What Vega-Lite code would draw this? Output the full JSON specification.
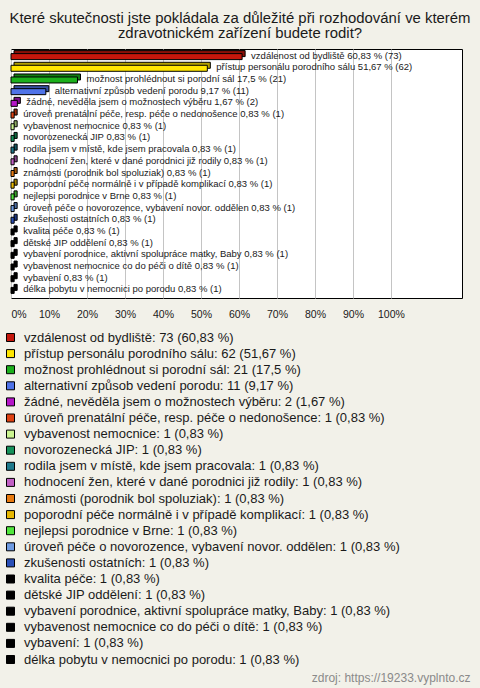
{
  "$schema": "https://vega.github.io/schema/vega-lite/v6.json",
  "width": 451,
  "height": 249,
  "autosize": {"type": "none"},
  "padding": {"left": 11, "top": 49, "right": 18, "bottom": 390},
  "background": "#f2f1e9",
  "config": {
    "view": {"fill": "#ffffff", "stroke": "#000000", "strokeWidth": 1}
  },
  "title": {
    "text": ["Které skutečnosti jste pokládala za důležité při rozhodování ve kterém", "zdravotnickém zařízení budete rodit?"],
    "fontSize": 14.9,
    "font": "Liberation Sans",
    "fontWeight": "normal",
    "color": "#1a1a1a",
    "anchor": "middle",
    "dx": 3.5,
    "offset": 8,
    "lineHeight": 15
  },
  "data": {
    "values": [
      {"name": "vzdálenost od bydliště", "count": 73, "pct": 60.83, "barLabel": "vzdálenost od bydliště 60,83 % (73)", "legend": "vzdálenost od bydliště: 73 (60,83 %)"},
      {"name": "přístup personálu porodního sálu", "count": 62, "pct": 51.67, "barLabel": "přístup personálu porodního sálu 51,67 % (62)", "legend": "přístup personálu porodního sálu: 62 (51,67 %)"},
      {"name": "možnost prohlédnout si porodní sál", "count": 21, "pct": 17.5, "barLabel": "možnost prohlédnout si porodní sál 17,5 % (21)", "legend": "možnost prohlédnout si porodní sál: 21 (17,5 %)"},
      {"name": "alternativní způsob vedení porodu", "count": 11, "pct": 9.17, "barLabel": "alternativní způsob vedení porodu 9,17 % (11)", "legend": "alternativní způsob vedení porodu: 11 (9,17 %)"},
      {"name": "žádné, nevěděla jsem o možnostech výběru", "count": 2, "pct": 1.67, "barLabel": "žádné, nevěděla jsem o možnostech výběru 1,67 % (2)", "legend": "žádné, nevěděla jsem o možnostech výběru: 2 (1,67 %)"},
      {"name": "úroveň prenatální péče, resp. péče o nedonošence", "count": 1, "pct": 0.83, "barLabel": "úroveň prenatální péče, resp. péče o nedonošence 0,83 % (1)", "legend": "úroveň prenatální péče, resp. péče o nedonošence: 1 (0,83 %)"},
      {"name": "vybavenost nemocnice", "count": 1, "pct": 0.83, "barLabel": "vybavenost nemocnice 0,83 % (1)", "legend": "vybavenost nemocnice: 1 (0,83 %)"},
      {"name": "novorozenecká JIP", "count": 1, "pct": 0.83, "barLabel": "novorozenecká JIP 0,83 % (1)", "legend": "novorozenecká JIP: 1 (0,83 %)"},
      {"name": "rodila jsem v místě, kde jsem pracovala", "count": 1, "pct": 0.83, "barLabel": "rodila jsem v místě, kde jsem pracovala 0,83 % (1)", "legend": "rodila jsem v místě, kde jsem pracovala: 1 (0,83 %)"},
      {"name": "hodnocení žen, které v dané porodnici již rodily", "count": 1, "pct": 0.83, "barLabel": "hodnocení žen, které v dané porodnici již rodily 0,83 % (1)", "legend": "hodnocení žen, které v dané porodnici již rodily: 1 (0,83 %)"},
      {"name": "známosti (porodnik bol spoluziak)", "count": 1, "pct": 0.83, "barLabel": "známosti (porodnik bol spoluziak) 0,83 % (1)", "legend": "známosti (porodnik bol spoluziak): 1 (0,83 %)"},
      {"name": "poporodní péče normálně i v případě komplikací", "count": 1, "pct": 0.83, "barLabel": "poporodní péče normálně i v případě komplikací 0,83 % (1)", "legend": "poporodní péče normálně i v případě komplikací: 1 (0,83 %)"},
      {"name": "nejlepsi porodnice v Brne", "count": 1, "pct": 0.83, "barLabel": "nejlepsi porodnice v Brne 0,83 % (1)", "legend": "nejlepsi porodnice v Brne: 1 (0,83 %)"},
      {"name": "úroveň péče o novorozence, vybavení novor. oddělen", "count": 1, "pct": 0.83, "barLabel": "úroveň péče o novorozence, vybavení novor. oddělen 0,83 % (1)", "legend": "úroveň péče o novorozence, vybavení novor. oddělen: 1 (0,83 %)"},
      {"name": "zkušenosti ostatních", "count": 1, "pct": 0.83, "barLabel": "zkušenosti ostatních 0,83 % (1)", "legend": "zkušenosti ostatních: 1 (0,83 %)"},
      {"name": "kvalita péče", "count": 1, "pct": 0.83, "barLabel": "kvalita péče 0,83 % (1)", "legend": "kvalita péče: 1 (0,83 %)"},
      {"name": "dětské JIP oddělení", "count": 1, "pct": 0.83, "barLabel": "dětské JIP oddělení 0,83 % (1)", "legend": "dětské JIP oddělení: 1 (0,83 %)"},
      {"name": "vybavení porodnice, aktivní spolupráce matky, Baby", "count": 1, "pct": 0.83, "barLabel": "vybavení porodnice, aktivní spolupráce matky, Baby 0,83 % (1)", "legend": "vybavení porodnice, aktivní spolupráce matky, Baby: 1 (0,83 %)"},
      {"name": "vybavenost nemocnice co do péči o dítě", "count": 1, "pct": 0.83, "barLabel": "vybavenost nemocnice co do péči o dítě 0,83 % (1)", "legend": "vybavenost nemocnice co do péči o dítě: 1 (0,83 %)"},
      {"name": "vybavení", "count": 1, "pct": 0.83, "barLabel": "vybavení 0,83 % (1)", "legend": "vybavení: 1 (0,83 %)"},
      {"name": "délka pobytu v nemocnici po porodu", "count": 1, "pct": 0.83, "barLabel": "délka pobytu v nemocnici po porodu 0,83 % (1)", "legend": "délka pobytu v nemocnici po porodu: 1 (0,83 %)"}
    ]
  },
  "encoding": {
    "y": {"field": "name", "type": "nominal", "sort": null, "axis": null, "scale": {"paddingInner": 0, "paddingOuter": 0.15}},
    "x": {
      "field": "pct",
      "type": "quantitative",
      "scale": {"domain": [0, 118.7], "nice": false, "zero": true},
      "axis": {
        "values": [0, 10, 20, 30, 40, 50, 60, 70, 80, 90, 100],
        "labelExpr": "datum.value + '%'",
        "grid": true,
        "gridColor": "#c4c4c4",
        "gridWidth": 1,
        "domain": false,
        "ticks": false,
        "labelFontSize": 10.5,
        "labelFont": "Liberation Sans",
        "labelColor": "#1a1a1a",
        "labelPadding": 11,
        "labelFlush": true,
        "title": "zdroj: https://19233.vyplnto.cz",
        "titleX": 459,
        "titleY": 379,
        "titleAlign": "right",
        "titleAnchor": "end",
        "titleBaseline": "middle",
        "titleFontSize": 12,
        "titleFontWeight": "normal",
        "titleColor": "#8a8a8a",
        "titleFont": "Liberation Sans"
      }
    }
  },
  "layer": [
    {
      "mark": {"type": "bar", "size": 6, "xOffset": 3, "x2Offset": 3, "yOffset": -3, "y2Offset": -3, "stroke": "#000000", "strokeWidth": 1, "opacity": 1},
      "encoding": {
        "color": {
          "field": "legend",
          "type": "nominal",
          "sort": null,
          "scale": {
            "domain": [
              "vzdálenost od bydliště: 73 (60,83 %)",
              "přístup personálu porodního sálu: 62 (51,67 %)",
              "možnost prohlédnout si porodní sál: 21 (17,5 %)",
              "alternativní způsob vedení porodu: 11 (9,17 %)",
              "žádné, nevěděla jsem o možnostech výběru: 2 (1,67 %)",
              "úroveň prenatální péče, resp. péče o nedonošence: 1 (0,83 %)",
              "vybavenost nemocnice: 1 (0,83 %)",
              "novorozenecká JIP: 1 (0,83 %)",
              "rodila jsem v místě, kde jsem pracovala: 1 (0,83 %)",
              "hodnocení žen, které v dané porodnici již rodily: 1 (0,83 %)",
              "známosti (porodnik bol spoluziak): 1 (0,83 %)",
              "poporodní péče normálně i v případě komplikací: 1 (0,83 %)",
              "nejlepsi porodnice v Brne: 1 (0,83 %)",
              "úroveň péče o novorozence, vybavení novor. oddělen: 1 (0,83 %)",
              "zkušenosti ostatních: 1 (0,83 %)",
              "kvalita péče: 1 (0,83 %)",
              "dětské JIP oddělení: 1 (0,83 %)",
              "vybavení porodnice, aktivní spolupráce matky, Baby: 1 (0,83 %)",
              "vybavenost nemocnice co do péči o dítě: 1 (0,83 %)",
              "vybavení: 1 (0,83 %)",
              "délka pobytu v nemocnici po porodu: 1 (0,83 %)"
            ],
            "range": ["#c4170c", "#ffe600", "#1cb01c", "#4f73e8", "#b516c8", "#df4212", "#ccf590", "#16925a", "#1f7a8c", "#c160c4", "#e87a10", "#e8b800", "#50e63c", "#6e9be2", "#2a50b8", "#000000", "#000000", "#000000", "#000000", "#000000", "#000000"]
          },
          "legend": {
            "title": null,
            "orient": "none",
            "legendX": -7,
            "legendY": 282,
            "direction": "vertical",
            "padding": 0,
            "symbolType": "square",
            "symbolSize": 64,
            "symbolStrokeColor": "#000000",
            "symbolStrokeWidth": 1,
            "symbolOpacity": 1,
            "labelFontSize": 13,
            "labelFont": "Liberation Sans",
            "labelColor": "#1a1a1a",
            "labelLimit": 500,
            "labelOffset": 7,
            "rowPadding": 2.1,
            "symbolLimit": 50
          }
        }
      }
    },
    {
      "mark": {"type": "bar", "size": 6, "xOffset": 3, "x2Offset": 3, "yOffset": -3, "y2Offset": -3, "fill": "#000000", "opacity": 0.3}
    },
    {
      "mark": {"type": "bar", "size": 6, "stroke": "#000000", "strokeWidth": 1, "opacity": 1},
      "encoding": {
        "color": {"field": "legend", "type": "nominal", "sort": null, "legend": null}
      }
    },
    {
      "mark": {"type": "text", "align": "left", "baseline": "middle", "dx": 9, "dy": -1, "fontSize": 9.5, "font": "Liberation Sans", "color": "#1a1a1a"},
      "encoding": {"text": {"field": "barLabel"}}
    }
  ]
}
